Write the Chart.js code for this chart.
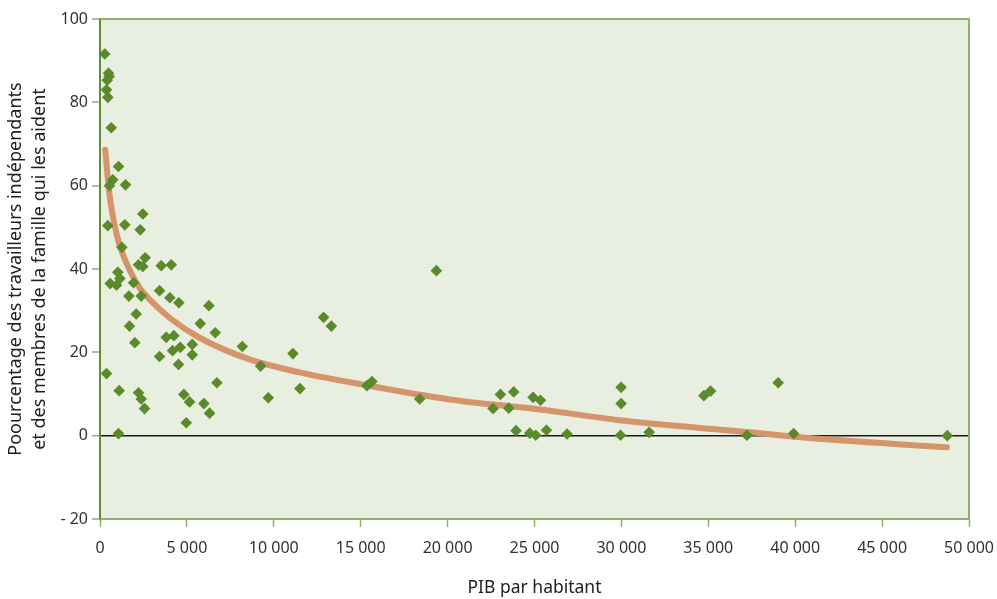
<!DOCTYPE html>
<html>
<head>
<meta charset="utf-8">
<script src="https://cdn.jsdelivr.net/npm/chart.js@4.4.1/dist/chart.umd.min.js"></script>
<style>
html,body{margin:0;padding:0;background:#fff;}
#wrap{width:997px;height:599px;}
</style>
</head>
<body>
<div id="wrap"><canvas id="c" width="997" height="599"></canvas></div>
<script>
// PIB par habitant (x) and percentage (y) for each country point
const gdpPerCapita = [276,490,530,414,374,450,645,1065,737,547,1468,2465,450,1428,2313,1257,2600,2216,2465,3523,4099,1027,1142,585,950,1929,1660,2372,3425,4020,4537,6264,2084,1698,5768,6632,3811,4249,2004,5308,4617,4174,3425,5308,4519,374,6725,1105,2216,2372,4825,5153,5976,2562,6304,4963,1065,8186,11100,12867,13310,9240,11503,9683,19355,15360,15648,18394,22614,23040,23806,23518,24917,25343,23938,24727,25072,25688,26874,29983,29983,29948,31595,34744,35130,37219,39021,39908,48750];
const selfEmployedPct = [91.6,87.0,86.2,85.3,83.0,81.2,73.9,64.6,61.4,60.0,60.2,53.2,50.4,50.6,49.4,45.2,42.7,41.0,40.6,40.8,41.0,39.2,37.7,36.5,36.1,36.7,33.5,33.5,34.8,33.1,31.9,31.2,29.2,26.3,26.9,24.7,23.6,24.0,22.3,21.9,21.2,20.4,19.0,19.4,17.1,14.9,12.7,10.8,10.3,8.8,9.9,8.1,7.7,6.5,5.4,3.1,0.5,21.4,19.7,28.4,26.3,16.7,11.3,9.1,39.6,12.0,13.0,8.8,6.5,9.9,10.5,6.6,9.2,8.5,1.2,0.6,0.1,1.3,0.4,11.6,7.7,0.1,0.8,9.6,10.7,0.1,12.7,0.5,0.0];
// Trend curve
const trendX = [300,547,835,1123,1698,2274,2850,4001,5728,8607,11485,15054,20121,25302,29908,37392,40271,48734];
const trendY = [68.6,57.8,50.6,45.8,39.8,35.5,32.7,28.3,23.5,18.3,15.2,12.3,8.7,6.3,3.7,0.8,-0.4,-2.8];
// Axis settings
const yTicks = [-20,0,20,40,60,80,100];
const xTicks = [0,5000,10000,15000,20000,25000,30000,35000,40000,45000,50000];
const xTitle = 'PIB par habitant';
const yTitle = ['Poourcentage des travailleurs indépendants','et des membres de la famille qui les aident'];

const points = gdpPerCapita.map((x,i)=>({x:x,y:selfEmployedPct[i]}));
const trend = trendX.map((x,i)=>({x:x,y:trendY[i]}));

const FONT = "'Noto Sans', sans-serif";

const bgPlugin = {
  id:'bg',
  beforeDraw(chart){
    const {ctx, chartArea:a} = chart;
    ctx.save();
    ctx.fillStyle = '#e8eee0';
    ctx.fillRect(a.left, a.top, a.right-a.left, a.bottom-a.top);
    ctx.restore();
  },
  afterDraw(chart){
    const {ctx, chartArea:a} = chart;
    ctx.save();
    ctx.strokeStyle = '#8fb06c';
    ctx.lineWidth = 2;
    ctx.beginPath();
    ctx.moveTo(a.left, a.top);
    ctx.lineTo(a.right, a.top);
    ctx.lineTo(a.right, a.bottom);
    ctx.stroke();
    ctx.restore();
  }
};

const fmtThousands = v => {
  const s = String(Math.round(v));
  return s.replace(/\B(?=(\d{3})+(?!\d))/g, ' ');
};

new Chart(document.getElementById('c'), {
  type:'scatter',
  data:{
    datasets:[
      {
        label:'Pays',
        data:points,
        order:0,
        pointStyle:'rectRot',
        pointRadius:5.8,
        pointHoverRadius:5.8,
        backgroundColor:'#5a8a2a',
        borderColor:'#5a8a2a',
        borderWidth:0
      },
      {
        type:'line',
        label:'Tendance',
        data:trend,
        order:1,
        showLine:true,
        borderColor:'#d4956b',
        borderWidth:6,
        borderCapStyle:'round',
        pointRadius:0,
        cubicInterpolationMode:'monotone',
        fill:false
      }
    ]
  },
  options:{
    responsive:false,
    animation:false,
    devicePixelRatio:1,
    layout:{padding:{top:19,right:28,left:0,bottom:0}},
    plugins:{legend:{display:false},tooltip:{enabled:false}},
    scales:{
      x:{
        type:'linear',
        min:0,max:50000,
        afterBuildTicks(scale){ scale.ticks = xTicks.map(v=>({value:v})); },
        afterFit(scale){ scale.height = 80; scale.paddingRight = 0; scale.paddingLeft = 0; },
        border:{display:true,color:'#8fb06c',width:2},
        grid:{display:true,drawOnChartArea:false,drawTicks:true,tickLength:8,tickColor:'#8fb06c',tickWidth:1.5},
        ticks:{padding:12,color:'#333',font:{family:FONT,size:16},callback:v=>fmtThousands(v),maxRotation:0,autoSkip:false},
        title:{display:true,text:xTitle,color:'#222',font:{family:FONT,size:17.5},padding:{top:6,bottom:0}}
      },
      y:{
        type:'linear',
        min:-20,max:100,
        afterBuildTicks(scale){ scale.ticks = yTicks.map(v=>({value:v})); },
        afterFit(scale){ scale.width = 100; scale.paddingTop = 0; scale.paddingBottom = 0; },
        border:{display:true,color:'#5f8f2f',width:2},
        grid:{
          display:true,drawOnChartArea:true,drawTicks:true,tickLength:8,
          color:ctx=> (ctx.tick && ctx.tick.value===0) ? '#1a1a1a' : 'rgba(0,0,0,0)',
          lineWidth:ctx=> (ctx.tick && ctx.tick.value===0) ? 1.5 : 0,
          tickColor:'#8fb06c',tickWidth:1.5
        },
        ticks:{padding:4,color:'#333',font:{family:FONT,size:16},callback:v=> v<0 ? '- '+Math.abs(v) : String(v),autoSkip:false},
        title:{display:true,text:yTitle,color:'#222',font:{family:FONT,size:18,lineHeight:1.38},padding:{top:3,bottom:0}}
      }
    }
  },
  plugins:[bgPlugin]
});
</script>
</body>
</html>
